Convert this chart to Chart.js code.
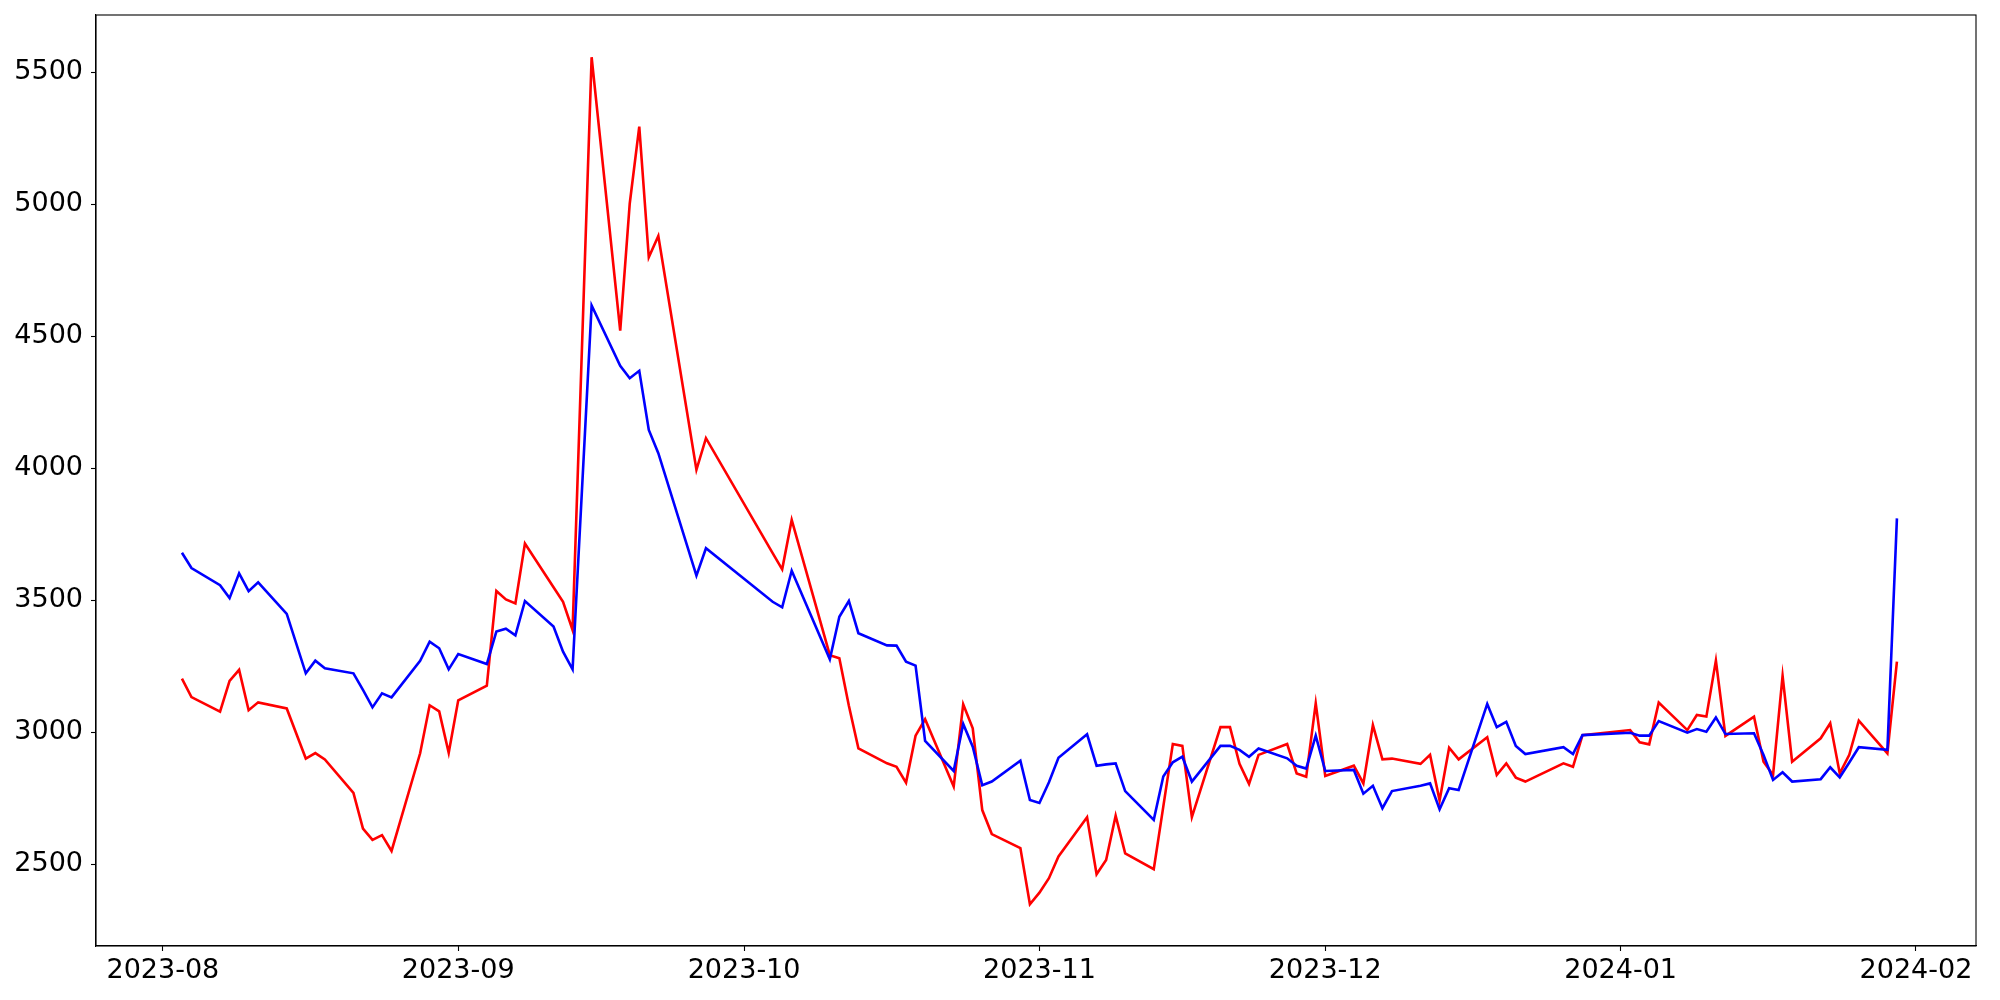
<!DOCTYPE html>
<html>
<head>
<meta charset="utf-8">
<script src="https://cdn.jsdelivr.net/npm/chart.js@4/dist/chart.umd.min.js"></script>
<style>
  html, body { margin: 0; padding: 0; background: #fff; }
  #wrap { width: 2000px; height: 1000px; }
</style>
</head>
<body>
<div id="wrap"><canvas id="chart" width="2000" height="1000"></canvas></div>
<script>
// Data
const dates = [
  '2023-08-03','2023-08-04','2023-08-07','2023-08-08','2023-08-09','2023-08-10','2023-08-11',
  '2023-08-14','2023-08-16','2023-08-17','2023-08-18','2023-08-21','2023-08-22','2023-08-23',
  '2023-08-24','2023-08-25','2023-08-28','2023-08-29','2023-08-30','2023-08-31','2023-09-01',
  '2023-09-04','2023-09-05','2023-09-06','2023-09-07','2023-09-08','2023-09-11','2023-09-12',
  '2023-09-13','2023-09-15','2023-09-18','2023-09-19','2023-09-20','2023-09-21','2023-09-22',
  '2023-09-26','2023-09-27','2023-10-04','2023-10-05','2023-10-06','2023-10-10','2023-10-11',
  '2023-10-12','2023-10-13','2023-10-16','2023-10-17','2023-10-18','2023-10-19','2023-10-20',
  '2023-10-23','2023-10-24','2023-10-25','2023-10-26','2023-10-27','2023-10-30','2023-10-31',
  '2023-11-01','2023-11-02','2023-11-03','2023-11-06','2023-11-07','2023-11-08','2023-11-09',
  '2023-11-10','2023-11-13','2023-11-14','2023-11-15','2023-11-16','2023-11-17','2023-11-20',
  '2023-11-21','2023-11-22','2023-11-23','2023-11-24','2023-11-27','2023-11-28','2023-11-29',
  '2023-11-30','2023-12-01','2023-12-04','2023-12-05','2023-12-06','2023-12-07','2023-12-08',
  '2023-12-11','2023-12-12','2023-12-13','2023-12-14','2023-12-15','2023-12-18','2023-12-19',
  '2023-12-20','2023-12-21','2023-12-22','2023-12-26','2023-12-27','2023-12-28','2024-01-02',
  '2024-01-03','2024-01-04','2024-01-05','2024-01-08','2024-01-09','2024-01-10','2024-01-11',
  '2024-01-12','2024-01-15','2024-01-16','2024-01-17','2024-01-18','2024-01-19','2024-01-22',
  '2024-01-23','2024-01-24','2024-01-25','2024-01-26','2024-01-29','2024-01-30'
];

const redValues = [
  3203, 3133, 3078, 3194, 3236, 3083, 3113,
  3090, 2900, 2921, 2897, 2770, 2635, 2592,
  2610, 2550, 2920, 3102, 3079, 2922, 3121,
  3176, 3535, 3503, 3488, 3715, 3549, 3494,
  3387, 5557, 4521, 5003, 5294, 4799, 4880,
  3994, 4114, 3678, 3617, 3804, 3292, 3280,
  3100, 2939, 2882, 2869, 2809, 2987, 3049,
  2794, 3106, 3015, 2705, 2614, 2561, 2348,
  2392, 2447, 2529, 2678, 2462, 2516, 2684,
  2541, 2481, 2718, 2955, 2948, 2678, 3019,
  3019, 2880, 2804, 2914, 2955, 2844, 2831,
  3109, 2834, 2873, 2806, 3027, 2897, 2900,
  2880, 2914, 2741, 2941, 2897, 2981, 2838,
  2882, 2828, 2813, 2882, 2869, 2989, 3008,
  2962, 2954, 3112, 3008, 3065, 3059, 3271,
  2986, 3059, 2888, 2838, 3213, 2888, 2977,
  3034, 2844, 2914, 3044, 2920, 3267
];

const blueValues = [
  3680, 3622, 3557, 3508, 3602, 3534, 3568,
  3448, 3223, 3271, 3242, 3223, 3160, 3094,
  3147, 3132, 3270, 3343, 3318, 3238, 3296,
  3258, 3381, 3392, 3367, 3497, 3400, 3305,
  3238, 4617, 4388, 4341, 4369, 4145, 4057,
  3593, 3697, 3494, 3473, 3612, 3276, 3437,
  3497, 3375, 3329, 3328, 3267, 3252, 2967,
  2853, 3031, 2945, 2799, 2813, 2892, 2743,
  2732, 2810, 2903, 2992, 2873, 2878, 2882,
  2777, 2668, 2832, 2886, 2907, 2813, 2948,
  2948, 2933, 2907, 2938, 2901, 2873, 2862,
  2987, 2853, 2857, 2767, 2797, 2712, 2777,
  2797, 2806, 2708, 2788, 2781, 3107, 3019,
  3039, 2948, 2917, 2943, 2917, 2989, 2998,
  2987, 2987, 3042, 2998, 3012, 3002, 3056,
  2993, 2996, 2914, 2819, 2848, 2813, 2822,
  2867, 2829, 2885, 2943, 2933, 3810
];

const monthTicks = ['2023-08', '2023-09', '2023-10', '2023-11', '2023-12', '2024-01', '2024-02'];
const yTicks = [2500, 3000, 3500, 4000, 4500, 5000, 5500];

// days since 2023-08-01, used as the x value on a linear scale
const origin = Date.UTC(2023, 7, 1);
function dayOf(str) {
  const p = str.split('-').map(Number);
  return (Date.UTC(p[0], p[1] - 1, p[2] || 1) - origin) / 86400000;
}

const xs = dates.map(dayOf);
const tickDays = monthTicks.map(dayOf);
const tickNames = {};
tickDays.forEach((d, i) => { tickNames[d] = monthTicks[i]; });

const frame = {
  id: 'frame',
  afterDraw(chart) {
    const a = chart.chartArea;
    const ctx = chart.ctx;
    ctx.save();
    ctx.strokeStyle = '#000';
    ctx.lineWidth = 1.1;
    ctx.strokeRect(a.left, a.top, a.right - a.left, a.bottom - a.top);
    ctx.restore();
  }
};

const font = { family: 'DejaVu Sans', size: 27 };

new Chart(document.getElementById('chart'), {
  type: 'line',
  data: {
    datasets: [
      {
        data: xs.map((x, i) => ({ x: x, y: redValues[i] })),
        borderColor: '#ff0000',
        borderWidth: 2.6,
        pointRadius: 0,
        tension: 0,
        order: 2
      },
      {
        data: xs.map((x, i) => ({ x: x, y: blueValues[i] })),
        borderColor: '#0000ff',
        borderWidth: 2.6,
        pointRadius: 0,
        tension: 0,
        order: 1
      }
    ]
  },
  options: {
    responsive: false,
    animation: false,
    events: [],
    layout: { padding: { top: 15, right: 24, left: 0, bottom: 0 } },
    plugins: { legend: { display: false }, tooltip: { enabled: false } },
    scales: {
      x: {
        type: 'linear',
        min: -7.02,
        max: 190.3,
        afterBuildTicks: s => { s.ticks = tickDays.map(v => ({ value: v })); },
        afterFit: s => { s.height = 54; s.paddingLeft = 0; s.paddingRight = 0; },
        ticks: {
          color: '#000',
          font: font,
          padding: 4,
          maxRotation: 0,
          autoSkip: false,
          callback: v => tickNames[v] || ''
        },
        grid: { drawOnChartArea: false, tickLength: 5, tickColor: '#000', tickWidth: 1.1 },
        border: { display: true, color: '#000', width: 1.1 }
      },
      y: {
        type: 'linear',
        min: 2190,
        max: 5717,
        afterBuildTicks: s => { s.ticks = yTicks.map(v => ({ value: v })); },
        afterFit: s => { s.width = 96; s.paddingTop = 0; s.paddingBottom = 0; },
        ticks: {
          color: '#000',
          font: font,
          padding: 8,
          autoSkip: false,
          callback: v => String(v)
        },
        grid: { drawOnChartArea: false, tickLength: 5, tickColor: '#000', tickWidth: 1.1 },
        border: { display: true, color: '#000', width: 1.1 }
      }
    }
  },
  plugins: [frame]
});
</script>
</body>
</html>
